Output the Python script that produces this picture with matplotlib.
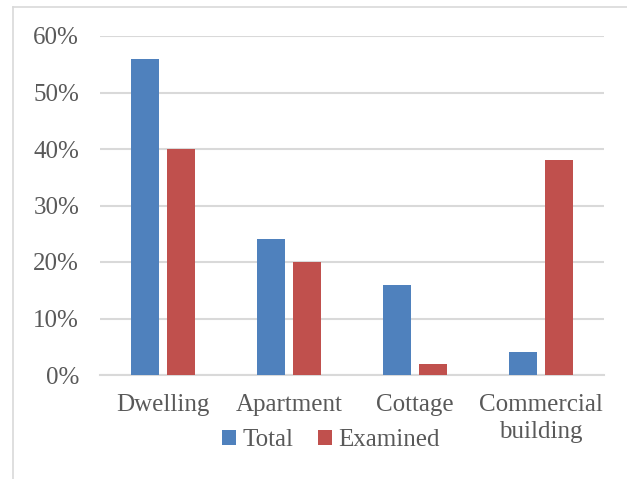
import numpy as np
import matplotlib.pyplot as plt
from matplotlib.lines import Line2D

categories = ['Dwelling', 'Apartment', 'Cottage', 'Commercial\nbuilding']
total = [56, 24, 16, 4]
examined = [40, 20, 2, 38]
yticks = [0, 10, 20, 30, 40, 50, 60]

blue = '#4F81BD'
red = '#C0504D'
grid_c = '#D9D9D9'
text_c = '#595959'

plt.rcParams['font.family'] = ['Liberation Serif', 'DejaVu Serif']

W, H = 627, 479
fig = plt.figure(figsize=(W / 100, H / 100), dpi=100)
# plot area in pixel terms
x0, x1, ytop, ybot = 100, 604, 36, 375
ax = fig.add_axes([x0 / W, 1 - ybot / H, (x1 - x0) / W, (ybot - ytop) / H])

x = np.arange(len(categories))
w = 0.22
off = 0.143
ax.bar(x - off, total, w, color=blue, label='Total', zorder=3)
ax.bar(x + off, examined, w, color=red, label='Examined', zorder=3)

ax.set_xlim(-0.5, len(categories) - 0.5)
ax.set_ylim(0, 60)
ax.set_yticks(yticks)
ax.set_yticklabels([f'{v}%' for v in yticks])
ax.set_xticks(x)
ax.set_xticklabels(categories, linespacing=1.25)
ax.grid(axis='y', color=grid_c, linewidth=1.5, zorder=0)
for s in ['top', 'right', 'left']:
    ax.spines[s].set_visible(False)
ax.spines['bottom'].set_color(grid_c)
ax.spines['bottom'].set_linewidth(1.5)
ax.tick_params(axis='both', length=0, colors=text_c, labelsize=18)
ax.tick_params(axis='y', pad=15)
ax.tick_params(axis='x', pad=14)

leg = fig.legend(loc='center', bbox_to_anchor=(331 / W, 1 - 440 / H), ncol=2,
                 frameon=False, fontsize=18, handlelength=0.55, handleheight=0.55,
                 handletextpad=0.25, columnspacing=1.0, borderpad=0)
for t in leg.get_texts():
    t.set_color(text_c)

# thin outline of the chart area
fig.add_artist(Line2D([13 / W, 13 / W], [0, 1 - 7 / H], color=grid_c, linewidth=1.2))
fig.add_artist(Line2D([13 / W, 1], [1 - 7 / H, 1 - 7 / H], color=grid_c, linewidth=1.2))

fig.savefig('out.png', dpi=100)
